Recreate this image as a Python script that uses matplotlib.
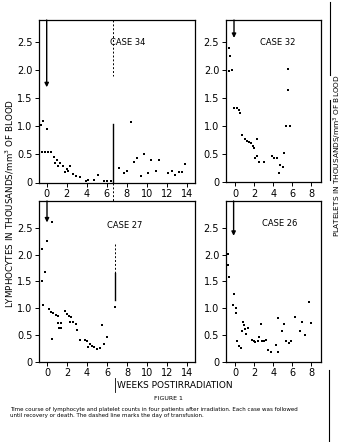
import matplotlib.pyplot as plt

# case 34 (top left) - lymphocytes
case34_x = [-0.6, -0.4, 0.05, -0.5, -0.2, 0.1, 0.4, 0.7, 0.8, 1.0, 1.1, 1.3, 1.6, 1.8, 2.0, 2.1, 2.3,
            2.6, 2.9, 3.3, 3.9, 4.1, 4.7, 5.1, 5.7, 6.0, 6.4,
            7.2, 7.7, 8.0, 8.4, 8.7, 9.0, 9.4, 9.7, 10.1, 10.4, 10.9, 11.2, 12.1, 12.5, 12.8, 13.2, 13.5, 13.8]
case34_y = [1.03, 1.09, 0.96, 0.54, 0.54, 0.54, 0.54, 0.45, 0.35, 0.41, 0.30, 0.35, 0.29, 0.19, 0.24, 0.21, 0.29,
            0.15, 0.11, 0.09, 0.03, 0.04, 0.05, 0.14, 0.02, 0.03, 0.02,
            0.26, 0.17, 0.21, 1.08, 0.37, 0.44, 0.11, 0.51, 0.17, 0.40, 0.21, 0.41, 0.17, 0.21, 0.14, 0.19, 0.18, 0.33]

# case 32 (top right)
case32_x = [-0.6, -0.5, -0.6, -0.3, -0.07, 0.2, 0.45, 0.55, 0.7, 1.0, 1.25, 1.5, 1.7, 1.85, 1.95, 2.3,
            2.1, 2.35, 2.55, 3.0, 3.9, 4.1, 4.4, 4.7, 5.0, 4.6, 5.1, 5.35, 5.8, 5.5, 5.55]
case32_y = [2.4, 2.25, 1.98, 2.0, 1.32, 1.32, 1.3, 1.24, 0.84, 0.77, 0.74, 0.72, 0.7, 0.64, 0.62, 0.77,
            0.43, 0.47, 0.37, 0.37, 0.47, 0.43, 0.43, 0.31, 0.28, 0.17, 0.53, 1.0, 1.0, 2.02, 1.65]

# case 27 (bottom left)
case27_x = [0.5, 0.0, -0.5, -0.2, -0.5, -0.4, 0.2, 0.4, 0.6, 0.9, 1.1, 1.1, 1.8, 2.0, 2.2, 2.4,
            1.4, 1.2, 1.4, 2.3, 2.6, 2.9, 3.0, 0.5, 3.3, 3.8, 4.0, 4.1, 4.3, 4.5, 4.7, 5.0, 5.3,
            5.5, 6.0, 5.7, 6.8]
case27_y = [2.6, 2.25, 2.11, 1.68, 1.51, 1.05, 0.99, 0.93, 0.9, 0.88, 0.85, 0.72, 0.94, 0.89, 0.85, 0.83,
            0.72, 0.63, 0.63, 0.75, 0.74, 0.7, 0.6, 0.43, 0.41, 0.41, 0.38, 0.28, 0.33, 0.3, 0.28, 0.24, 0.26,
            0.68, 0.47, 0.33, 1.03]

# case 26 (bottom right)
case26_x = [-0.7, -0.7, -0.6, -0.15, -0.25, 0.05, 0.1, 0.2, 0.45, 0.6, 0.8, 0.7, 1.0, 1.1, 1.35, 0.9,
            1.8, 2.0, 2.1, 2.4, 2.55, 2.75, 2.8, 3.0, 3.2, 3.5, 3.8, 4.25, 4.45, 4.45, 4.9, 5.1,
            5.3, 5.6, 5.9, 6.3, 6.8, 7.05, 7.35, 7.7, 7.95]
case26_y = [2.01, 1.81, 1.58, 1.26, 1.05, 1.01, 0.91, 0.38, 0.3, 0.25, 0.74, 0.57, 0.61, 0.51, 0.62, 0.68,
            0.41, 0.38, 0.37, 0.38, 0.47, 0.7, 0.38, 0.38, 0.4, 0.22, 0.18, 0.31, 0.81, 0.19, 0.58, 0.7,
            0.39, 0.35, 0.38, 0.84, 0.58, 0.75, 0.5, 1.11, 0.72]

# irradiation arrows (x, y where arrow ends)
arrow_x = [0.0, -0.1, 0.0, -0.15]
arrow_end = [1.7, 2.58, 2.6, 2.35]

yticks = [0, 0.5, 1.0, 1.5, 2.0, 2.5]
ytick_labels = ["0", "0.5", "1.0", "1.5", "2.0", "2.5"]
long_ticks = [0, 2, 4, 6, 8, 10, 12, 14]
short_ticks = [0, 2, 4, 6, 8]

W, H = 351, 442
fig = plt.figure(figsize=(W / 100, H / 100), dpi=100)
plt.rcParams['font.family'] = ['DejaVu Sans']


def box(l, r, t, b):
    return [l / W, 1 - b / H, (r - l) / W, (b - t) / H]


def panel(rect, xs, ys, xlim, ylim, xt, label, lx, ly, ax_i):
    ax = fig.add_axes(rect)
    ax.plot(xs, ys, 's', color='black', markersize=1.6, markeredgewidth=0)
    ax.set_xlim(xlim)
    ax.set_ylim(ylim)
    ax.set_yticks(yticks)
    ax.set_yticklabels(ytick_labels)
    ax.set_xticks(xt)
    ax.tick_params(labelsize=7, length=3, width=0.7, pad=1.5, direction='out')
    for s in ax.spines.values():
        s.set_linewidth(0.9)
    ax.text(lx, ly, label, fontsize=6, transform=ax.transAxes, ha='center', va='center')
    ax.annotate("", xy=(arrow_x[ax_i], arrow_end[ax_i]), xytext=(arrow_x[ax_i], ylim[1]),
                arrowprops=dict(arrowstyle='-|>', lw=1.0, color='black', mutation_scale=6,
                                shrinkA=0, shrinkB=0))
    return ax


ax1 = panel(box(38.5, 195, 20, 182.5), case34_x, case34_y, (-0.82, 14.83), (0, 2.9),
            long_ticks, "CASE 34", 0.57, 0.86, 0)
ax2 = panel(box(225.5, 321, 20, 182.3), case32_x, case32_y, (-0.99, 9.0), (0, 2.9),
            short_ticks, "CASE 32", 0.55, 0.86, 1)
ax3 = panel(box(38.5, 195, 201, 361.7), case27_x, case27_y, (-0.85, 14.8), (0, 3.0),
            long_ticks, "CASE 27", 0.55, 0.85, 2)
ax4 = panel(box(225.5, 321, 201, 361.7), case26_x, case26_y, (-1.0, 9.0), (0, 3.0),
            short_ticks, "CASE 26", 0.57, 0.86, 3)

# day-of-event markers (vertical lines)
ax1.plot([6.6, 6.6], [2.9, 1.9], color='black', lw=0.7, ls=(0, (2, 2)))
ax1.plot([6.6, 6.6], [1.05, 0], color='black', lw=1.0)
ax1.plot([6.6, 6.6], [0, -0.35], color='black', lw=0.7, ls=(0, (2, 2)), clip_on=False)
ax3.plot([6.8, 6.8], [2.2, 1.65], color='black', lw=0.7, ls=(0, (2, 2)))
ax3.plot([6.8, 6.8], [1.65, 1.15], color='black', lw=1.0)

# axis titles and figure text
fig.text(10 / W, 1 - 203 / H, "LYMPHOCYTES IN THOUSANDS/mm$^3$ OF BLOOD", rotation=90,
         fontsize=6.3, ha='center', va='center')
fig.text(338 / W, 1 - 155 / H, "PLATELETS IN THOUSANDS/mm$^3$ OF BLOOD", rotation=90,
         fontsize=5.3, ha='center', va='center')
fig.text(175 / W, 1 - 385 / H, "WEEKS POSTIRRADIATION", fontsize=6.5, ha='center', va='center')
fig.text(168 / W, 1 - 399 / H, "FIGURE 1", fontsize=4.5, ha='center', va='center')
fig.text(10 / W, 1 - 410 / H,
         "Time course of lymphocyte and platelet counts in four patients after irradiation. Each case was followed",
         fontsize=4.0, ha='left', va='center')
fig.text(10 / W, 1 - 416 / H,
         "until recovery or death. The dashed line marks the day of transfusion.",
         fontsize=4.0, ha='left', va='center')

# scan edge lines on the right
fig.add_artist(plt.Line2D([330 / W, 330 / W], [1 - 2 / H, 1 - 75 / H], color='black', lw=0.8))
fig.add_artist(plt.Line2D([330 / W, 330 / W], [1 - 100 / H, 1 - 180 / H], color='black', lw=0.8))
fig.add_artist(plt.Line2D([329 / W, 329 / W], [1 - 370 / H, 1 - 442 / H], color='black', lw=0.8))
fig.add_artist(plt.Line2D([115 / W, 115 / W], [1 - 378 / H, 1 - 392 / H], color='black', lw=0.6))

fig.savefig("out.png", dpi=100)
